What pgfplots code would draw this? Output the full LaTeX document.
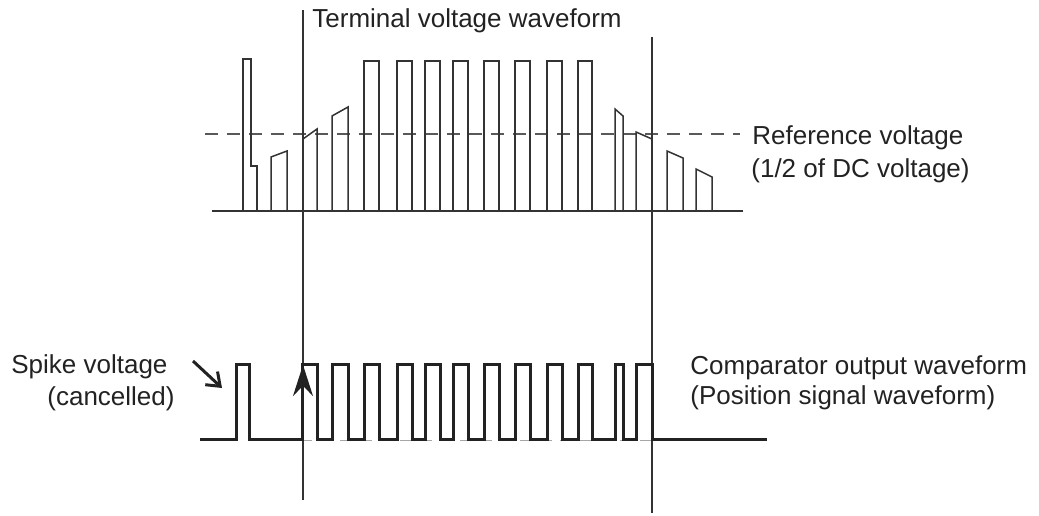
\documentclass[border=0pt]{standalone}
\usepackage{pgfplots}
\pgfplotsset{compat=1.18}
\usepackage{fontspec}
\setmainfont{Liberation Sans}
\usetikzlibrary{arrows.meta}
\definecolor{ink}{HTML}{333333}
\definecolor{inkd}{HTML}{222222}
\begin{document}
\begin{tikzpicture}
\begin{axis}[
  scale only axis, width=519.5pt, height=257.5pt,
  xmin=0, xmax=1039, ymin=0, ymax=515,
  hide axis, clip=false,
  every axis plot/.append style={no marks},
]
\path (axis cs:0,0) rectangle (axis cs:1039,515);
% baseline of the terminal waveform
\addplot[ink, line width=0.75pt] coordinates {(212,304) (743,304)};
% reference voltage (dashed)
\addplot[black!65, line width=0.75pt, dash pattern=on 6.5pt off 4.5pt] coordinates {(205,381) (740,381)};
% terminal voltage pulses
\addplot[ink, line width=0.75pt] coordinates {(243,304) (243,456) (251,456) (251,349) (257,349) (257,304)};
\addplot[ink, line width=0.75pt] coordinates {(271,304) (271,358) (287,364) (287,304)};
\addplot[ink, line width=0.75pt] coordinates {(303,304) (303,376) (317,386) (317,304)};
\addplot[ink, line width=0.75pt] coordinates {(332,304) (332,399) (348,408) (348,304)};
\addplot[ink, line width=0.75pt] coordinates {(364,304) (364,454) (379,454) (379,304)};
\addplot[ink, line width=0.75pt] coordinates {(397,304) (397,454) (412,454) (412,304)};
\addplot[ink, line width=0.75pt] coordinates {(425,304) (425,454) (440,454) (440,304)};
\addplot[ink, line width=0.75pt] coordinates {(453,304) (453,454) (468,454) (468,304)};
\addplot[ink, line width=0.75pt] coordinates {(484,304) (484,454) (499,454) (499,304)};
\addplot[ink, line width=0.75pt] coordinates {(515,304) (515,454) (530,454) (530,304)};
\addplot[ink, line width=0.75pt] coordinates {(547,304) (547,454) (562,454) (562,304)};
\addplot[ink, line width=0.75pt] coordinates {(578,304) (578,454) (592,454) (592,304)};
\addplot[ink, line width=0.75pt] coordinates {(615,304) (615,406) (623,399) (623,304)};
\addplot[ink, line width=0.75pt] coordinates {(636,304) (636,383) (652,376) (652,304)};
\addplot[ink, line width=0.75pt] coordinates {(667,304) (667,364) (683,357) (683,304)};
\addplot[ink, line width=0.75pt] coordinates {(696,304) (696,346) (712,338) (712,304)};
% vertical marker lines
\addplot[ink, line width=0.7pt] coordinates {(303,505) (303,15)};
\addplot[ink, line width=0.7pt] coordinates {(652,478) (652,2)};
% faint low level under the comparator output
\addplot[gray!70, line width=0.5pt, dash pattern=on 6pt off 4pt] coordinates {(300,75) (652,75)};
% comparator output waveform
\addplot[inkd, line width=1.5pt] coordinates {
(200,76) (236,76) (236,151) (249,151) (249,76) (302,76) (302,151) (317,151) (317,76)
(332,76) (332,151) (348,151) (348,76) (364,76) (364,151) (379,151) (379,76)
(397,76) (397,151) (412,151) (412,76) (425,76) (425,151) (440,151) (440,76)
(453,76) (453,151) (468,151) (468,76) (484,76) (484,151) (499,151) (499,76)
(515,76) (515,151) (530,151) (530,76) (547,76) (547,151) (562,151) (562,76)
(578,76) (578,151) (592,151) (592,76) (615,76) (615,151) (623,151) (623,76)
(636,76) (636,151) (652,151) (652,76) (767,76)};
% arrows
\draw[inkd, line width=1.5pt, -{Straight Barb[length=6pt,width=9pt]}] (axis cs:193,154) -- (axis cs:222,127);
\draw[inkd, line width=1pt, -{Stealth[length=15.5pt,width=10pt]}] (axis cs:303,100) -- (axis cs:303,150);
% texts
\begin{scope}[every node/.style={font=\fontsize{13}{15}\selectfont, text=inkd, inner sep=0pt}]
\node[anchor=base west] at (axis cs:312,487) {Terminal voltage waveform};
\node[anchor=base west] at (axis cs:752,370) {Reference voltage};
\node[anchor=base west] at (axis cs:751,337) {(1/2 of DC voltage)};
\node[anchor=base west] at (axis cs:11,142) {Spike voltage};
\node[anchor=base west] at (axis cs:47,110) {(cancelled)};
\node[anchor=base west] at (axis cs:690,141) {Comparator output waveform};
\node[anchor=base west] at (axis cs:690,111) {(Position signal waveform)};
\end{scope}
\end{axis}
\end{tikzpicture}
\end{document}
